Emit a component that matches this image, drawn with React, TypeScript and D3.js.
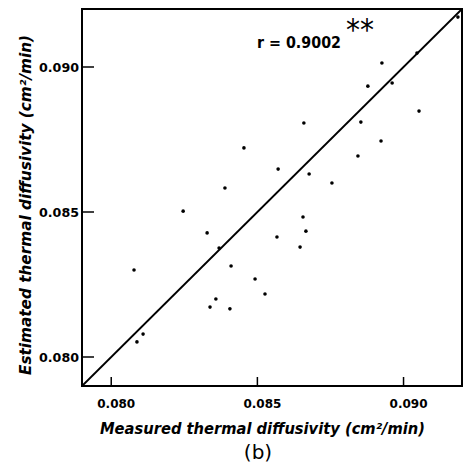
import React from "react";
import * as d3 from "d3";

// measured (x) vs estimated (y) thermal diffusivity, cm2/min
const measured = [
  0.09186, 0.09046, 0.08926, 0.08961, 0.08878, 0.09053, 0.08659, 0.08854,
  0.08454, 0.08923, 0.08844, 0.08755, 0.08571, 0.08677, 0.08389, 0.08246,
  0.08656, 0.08328, 0.08666, 0.08567, 0.08369, 0.08646, 0.0841, 0.08492,
  0.08526, 0.08358, 0.08338, 0.08406, 0.08078, 0.08109, 0.08088,
];
const estimated = [
  0.09172, 0.09048, 0.09014, 0.08945, 0.08934, 0.08848, 0.08807, 0.0881,
  0.08721, 0.08745, 0.08693, 0.086, 0.08648, 0.08631, 0.08583, 0.08503,
  0.08483, 0.08428, 0.08434, 0.08414, 0.08376, 0.08379, 0.08314, 0.08269,
  0.08217, 0.082, 0.08172, 0.08166, 0.083, 0.08079, 0.08052,
];
const tickValues = [0.08, 0.085, 0.09];
const tickLabels = ["0.080", "0.085", "0.090"];
const domain = [0.079, 0.092];
const rText = "r = 0.9002";
const sigText = "**";
const xTitle = "Measured thermal diffusivity (cm²/min)";
const yTitle = "Estimated thermal diffusivity (cm²/min)";

const W = 465;
const H = 475;
const m = { left: 82, top: 9, right: 3, bottom: 89 };

export default function App() {
  const x = d3.scaleLinear().domain(domain).range([m.left, W - m.right]);
  const y = d3.scaleLinear().domain(domain).range([H - m.bottom, m.top]);
  const pts = measured.map((v, i) => ({ mx: v, ey: estimated[i] }));
  const font = "'DejaVu Sans', sans-serif";

  return (
    <svg
      width={W}
      height={H}
      style={{ position: "absolute", left: 0, top: 0, background: "#fff" }}
    >
      {/* frame */}
      <rect
        x={x(domain[0])}
        y={y(domain[1])}
        width={x(domain[1]) - x(domain[0])}
        height={y(domain[0]) - y(domain[1])}
        fill="none"
        stroke="#000"
        strokeWidth={2}
      />
      {/* 1:1 line */}
      <line
        x1={x(domain[0])}
        y1={y(domain[0])}
        x2={x(domain[1])}
        y2={y(domain[1])}
        stroke="#000"
        strokeWidth={1.8}
      />
      {/* x ticks */}
      {tickValues.map((t, i) => (
        <g key={"x" + i}>
          <line x1={x(t)} x2={x(t)} y1={y(domain[0])} y2={y(domain[0]) - 9} stroke="#000" strokeWidth={1.5} />
          <text
            x={x(t) + 5}
            y={408}
            textAnchor="middle"
            fontFamily={font}
            fontSize={13}
            fontWeight={600}
            textLength={38}
            lengthAdjust="spacingAndGlyphs"
          >
            {tickLabels[i]}
          </text>
        </g>
      ))}
      {/* y ticks */}
      {tickValues.map((t, i) => (
        <g key={"y" + i}>
          <line x1={x(domain[0])} x2={x(domain[0]) + 12} y1={y(t)} y2={y(t)} stroke="#000" strokeWidth={1.5} />
          <text
            x={79}
            y={y(t) + 5}
            textAnchor="end"
            fontFamily={font}
            fontSize={13}
            fontWeight={600}
            textLength={40}
            lengthAdjust="spacingAndGlyphs"
          >
            {tickLabels[i]}
          </text>
        </g>
      ))}
      {/* points */}
      {pts.map((p, i) => (
        <circle key={i} cx={x(p.mx)} cy={y(p.ey)} r={1.8} fill="#000" />
      ))}
      {/* annotation */}
      <text x={257} y={48} fontFamily={font} fontSize={16} fontWeight={600} textLength={84} lengthAdjust="spacingAndGlyphs">
        {rText}
      </text>
      <text x={346} y={40} fontFamily={font} fontSize={30} textLength={28} lengthAdjust="spacingAndGlyphs">
        {sigText}
      </text>
      {/* axis titles */}
      <text
        x={100}
        y={434}
        fontFamily={font}
        fontSize={15}
        fontStyle="italic"
        fontWeight="bold"
        textLength={325}
        lengthAdjust="spacingAndGlyphs"
      >
        {xTitle}
      </text>
      <text
        transform={`translate(31,375) rotate(-90)`}
        fontFamily={font}
        fontSize={15}
        fontStyle="italic"
        fontWeight="bold"
        textLength={340}
        lengthAdjust="spacingAndGlyphs"
      >
        {yTitle}
      </text>
      <text x={258} y={459} textAnchor="middle" fontFamily={font} fontSize={20}>
        (b)
      </text>
    </svg>
  );
}
